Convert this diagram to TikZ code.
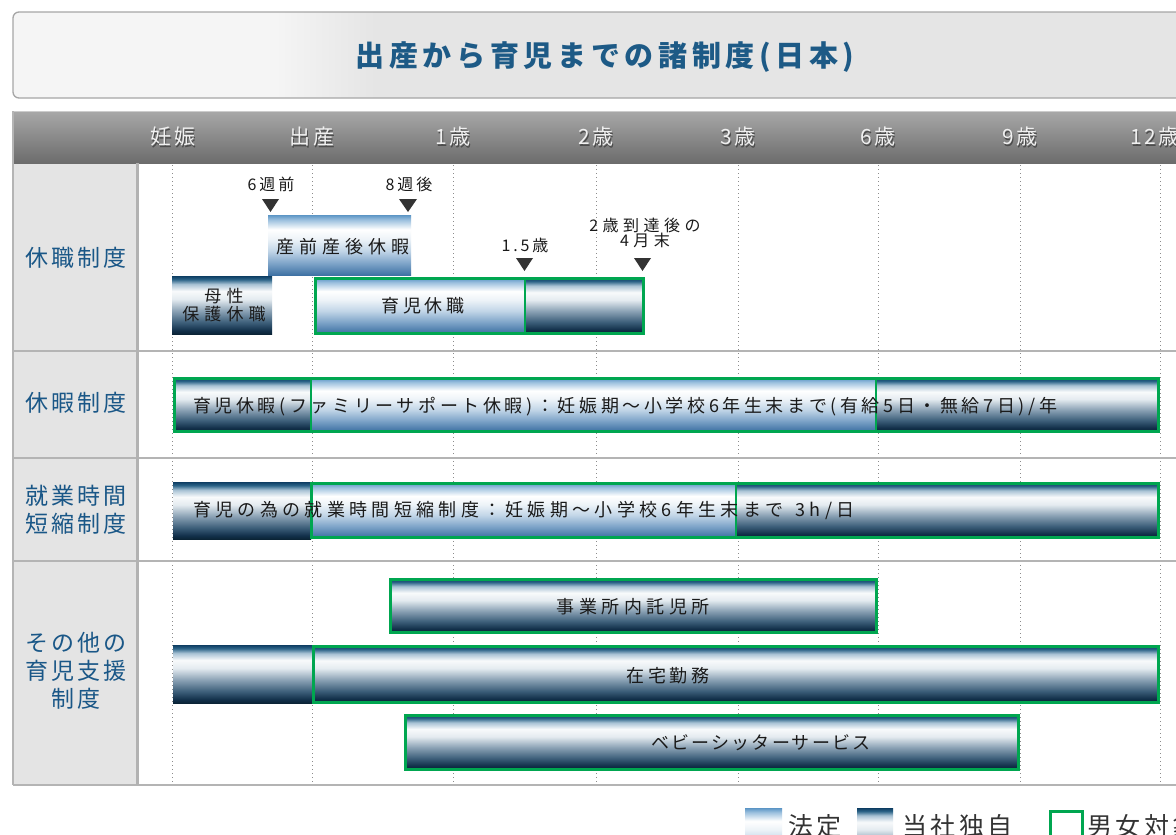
\documentclass[tikz,border=0pt]{standalone}
\usepackage{fontspec}
\setmainfont{Noto Sans CJK JP}
\newfontfamily\barfont[LetterSpace=20]{Noto Sans CJK JP}
\newfontfamily\lblfont[LetterSpace=14]{Noto Sans CJK JP}
\newfontfamily\ttlfont[LetterSpace=16]{Noto Sans CJK JP}
\definecolor{mgreen}{HTML}{00A650}
\definecolor{ttlblue}{HTML}{1D5A86}
\definecolor{lblblue}{HTML}{1A5787}
\definecolor{labfill}{HTML}{E4E4E4}
\definecolor{sepgray}{HTML}{B4B4B4}
\definecolor{hdT}{HTML}{A8A8A8}
\definecolor{hdB}{HTML}{6C6C6C}
\definecolor{txtdark}{HTML}{1A1A1A}
% legal shading colours
\definecolor{lgA}{HTML}{3F72A4}
\definecolor{lgB}{HTML}{7FA5C9}
\definecolor{lgC}{HTML}{C1D5E7}
\definecolor{lgD}{HTML}{EDF3F8}
\definecolor{lgE}{HTML}{9CC0DE}
\definecolor{lgF}{HTML}{5B95C5}
% company shading colours
\definecolor{cpA}{HTML}{0B2436}
\definecolor{cpB}{HTML}{12304A}
\definecolor{cpC}{HTML}{3D5F7A}
\definecolor{cpD}{HTML}{8BA2B5}
\definecolor{cpE}{HTML}{E4EBF0}
\definecolor{cpF}{HTML}{F8FAFB}
\definecolor{cpG}{HTML}{A8C2D4}
\definecolor{cpH}{HTML}{2C6488}
\definecolor{cpI}{HTML}{0D3D62}
\pgfdeclareverticalshading{legalsh}{100bp}{color(0bp)=(lgA); color(25bp)=(lgA); color(35bp)=(lgB); color(45bp)=(lgC); color(55bp)=(lgD); color(63bp)=(white); color(71bp)=(lgE); color(75bp)=(lgF); color(100bp)=(lgF)}
\pgfdeclareverticalshading{companysh}{100bp}{color(0bp)=(cpA); color(25bp)=(cpA); color(28bp)=(cpB); color(35bp)=(cpC); color(45bp)=(cpD); color(55bp)=(cpE); color(62bp)=(cpF); color(68bp)=(cpG); color(72bp)=(cpH); color(75bp)=(cpI); color(100bp)=(cpI)}
\pgfdeclarehorizontalshading{titlesh}{100bp}{color(0bp)=(white!96!black); color(25bp)=(white!96!black); color(36bp)=(white!96!black); color(40bp)=(white!90!black); color(100bp)=(white!90!black)}
\newcommand{\lsp}[1]{\addfontfeatures{LetterSpace=#1}}
\tikzset{
  legal/.style={shading=legalsh},
  company/.style={shading=companysh},
  gbord/.style={draw=mgreen, line width=3pt},
  gline/.style={draw=mgreen, line width=2.5pt},
  bartext/.style={font=\barfont\fontsize{18}{20}\selectfont, text=txtdark, inner sep=0pt},
  marktext/.style={font=\barfont\fontsize{16}{18}\selectfont\lsp{18}, text=txtdark, inner sep=0pt, align=center},
  rowlabel/.style={font=\lblfont\fontsize{23}{28}\selectfont, text=lblblue, align=center, inner sep=0pt},
  hdlabel/.style={font=\barfont\fontsize{21}{23}\selectfont\lsp{12}, text=white!94!black, inner sep=0pt},
  hdshadow/.style={font=\barfont\fontsize{21}{23}\selectfont\lsp{12}, text=black!70, inner sep=0pt},
  tri/.style={fill=black!80},
  dots/.style={draw=black!45, line width=1pt, dash pattern=on 1pt off 3pt},
  sep/.style={draw=sepgray, line width=2pt},
  legtext/.style={font=\lblfont\fontsize{25}{27}\selectfont, text=black!80, inner sep=0pt, anchor=west}
}
\begin{document}
\begin{tikzpicture}[x=1pt,y=-1pt]
\useasboundingbox (0,0) rectangle (1176,835);
\clip (0,0) rectangle (1176,835);
\fill[white] (0,0) rectangle (1176,835);

% title box
\shade[shading=titlesh, draw=black!35, line width=1.3pt, rounded corners=6pt] (13,12) rectangle (1210,98);
\node[font=\ttlfont\bfseries\fontsize{29}{32}\selectfont, text=ttlblue, inner sep=0pt] (title) at (605,57) {出産から育児までの諸制度(日本)};

% table background
\fill[labfill] (13,163) rectangle (137,785);
\shade[top color=hdT, bottom color=hdB] (13,111) rectangle (1210,163);
\draw[white!80!black, line width=1pt] (13,111.5) -- (1210,111.5);

% dotted grid lines
\foreach \gx in {172,312,453,596,738,878,1020,1160}{
  \draw[dots] (\gx,165) -- (\gx,784);
}

% row separators
\draw[sep] (13,351) -- (1210,351);
\draw[sep] (13,458) -- (1210,458);
\draw[sep] (13,561) -- (1210,561);
\draw[sep] (13,785) -- (1210,785);
\draw[sep] (13,111) -- (13,785);
\draw[draw=black!30, line width=3pt] (137,163) -- (137,785);

% header labels
\foreach \hx/\htxt [count=\i] in {173/妊娠,312/出産,453/1歳,596/2歳,738/3歳,878/6歳,1020/9歳}{
  \node[hdshadow] at (\hx+1.2,138.2) {\htxt};
  \node[hdlabel] (hd\i) at (\hx,137) {\htxt};
}
\node[hdshadow, anchor=west] at (1131.2,138.2) {12歳};
\node[hdlabel, anchor=west] (hd8) at (1130,137) {12歳};

% row labels
\node[rowlabel] (r1) at (76,258) {休職制度};
\node[rowlabel] (r2) at (76,403) {休暇制度};
\node[rowlabel] (r3) at (76,510) {就業時間\\短縮制度};
\node[rowlabel] (r4) at (76,671) {その他の\\育児支援\\制度};

% ---- row 1 ----
\node[marktext] (m6w) at (271,184) {6週前};
\fill[tri] (262,199) -- (279,199) -- (270.5,212) -- cycle;
\node[marktext] (m8w) at (409,184) {8週後};
\fill[tri] (399,199) -- (417,199) -- (408,212) -- cycle;

\shade[legal] (268,215) rectangle (411,275);
\node[bartext, font=\barfont\fontsize{18}{20}\selectfont\lsp{28}] (sanzen) at (343,247) {産前産後休暇};

\shade[company] (172,276) rectangle (272,334);
\node[bartext, align=center, font=\barfont\fontsize{17}{18}\selectfont\lsp{30}] (bosei) at (224,305) {母性\\保護休職};

\shade[legal] (315,278) rectangle (525,333);
\shade[company] (525,278) rectangle (643,333);
\draw[gbord] (315,278) rectangle (643,333);
\draw[gline] (525,278) -- (525,333);
\node[bartext, font=\barfont\fontsize{18}{20}\selectfont\lsp{22}] (ikukyu) at (423,306) {育児休職};

\node[marktext] (m15) at (525,245) {1.5歳};
\fill[tri] (516,258) -- (533,258) -- (524.5,271) -- cycle;
\node[marktext, font=\barfont\fontsize{16}{18}\selectfont\lsp{28}] (m2y) at (645,233) {2歳到達後の\\[-3pt]4月末};
\fill[tri] (634,258) -- (651,258) -- (642.5,271) -- cycle;

% ---- row 2 ----
\shade[company] (174,378) rectangle (311,431);
\shade[legal] (311,378) rectangle (876,431);
\shade[company] (876,378) rectangle (1158,431);
\draw[gbord] (174,378) rectangle (1158,431);
\draw[gline] (311,378) -- (311,431);
\draw[gline] (876,378) -- (876,431);
\node[bartext, anchor=west] (kyuka) at (193,407) {育児休暇(ファミリーサポート休暇)：妊娠期〜小学校6年生末まで(有給5日・無給7日)/年};

% ---- row 3 ----
\shade[company] (173,482) rectangle (311,539);
\shade[legal] (311,483) rectangle (736,537);
\shade[company] (736,483) rectangle (1158,537);
\draw[gbord] (311,483) rectangle (1158,537);
\draw[gline] (736,483) -- (736,537);
\node[bartext, anchor=west, font=\barfont\fontsize{18}{20}\selectfont\lsp{24}] (tanshuku) at (193,511) {育児の為の就業時間短縮制度：妊娠期〜小学校6年生末まで\hspace{12pt}3h/日};

% ---- row 4 ----
\shade[company] (390,579) rectangle (876,632);
\draw[gbord] (390,579) rectangle (876,632);
\node[bartext, font=\barfont\fontsize{18}{20}\selectfont\lsp{25}] (takuji) at (633,607) {事業所内託児所};

\shade[company] (173,645) rectangle (313,703);
\shade[company] (313,646) rectangle (1158,702);
\draw[gbord] (313,646) rectangle (1158,702);
\node[bartext] (zaitaku) at (668,676) {在宅勤務};

\shade[company] (405,715) rectangle (1018,769);
\draw[gbord] (405,715) rectangle (1018,769);
\node[bartext, font=\barfont\fontsize{18}{20}\selectfont\lsp{12}] (baby) at (761,743) {ベビーシッターサービス};

% ---- legend ----
\shade[legal] (745,808) rectangle (782,862);
\node[legtext] (lg1) at (788,826) {法定};
\shade[company] (857,808) rectangle (893,862);
\node[legtext] (lg2) at (902,826) {当社独自};
\draw[gbord] (1050,811) rectangle (1082,850);
\node[legtext] (lg3) at (1087,826) {男女対象};
\end{tikzpicture}
\end{document}
